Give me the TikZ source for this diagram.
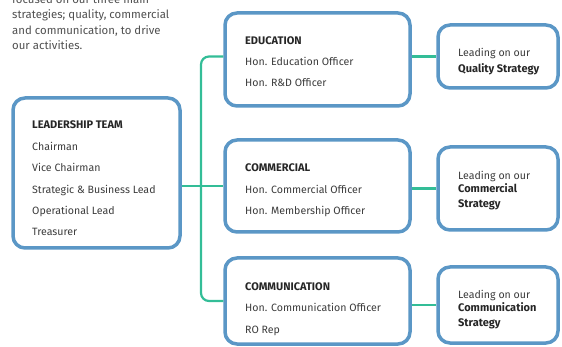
\documentclass[tikz,border=0pt]{standalone}
\usepackage{fontspec}
\setmainfont{Fira Sans}
\definecolor{boxblue}{HTML}{5B97C6}
\definecolor{linkgreen}{HTML}{33BD97}
\definecolor{txtgrey}{HTML}{3C3C3C}
\tikzset{
  box/.style={draw=boxblue, line width=3.5pt, rounded corners=12pt, fill=white},
  link/.style={draw=linkgreen, line width=2.2pt},
  item/.style={anchor=base west, inner sep=0pt, text=txtgrey, font=\fontsize{10.6}{12}\selectfont},
  head/.style={item, text=black!85, font=\fontsize{11}{12}\selectfont\bfseries},
}

\begin{document}
\begin{tikzpicture}[x=1pt,y=-1pt]
\useasboundingbox (0,0) rectangle (562,347);
% intro text, cut off at the top
\foreach \t [count=\i] in {focused on our three main, {strategies; quality, commercial}, {and communication, to drive}, our activities.}{
  \node[item, text=txtgrey!90, font=\fontsize{11.4}{13}\selectfont] (intro\i) at (12,3.5+15.5*\i-15.5) {\t};
}

% boxes
\node[box, minimum width=167pt, minimum height=150pt] (lead) at (96.5,173) {};
\node[box, minimum width=185pt, minimum height=93pt] (edu) at (317.5,59.5) {};
\node[box, minimum width=185pt, minimum height=92pt] (com) at (317.5,186) {};
\node[box, minimum width=185pt, minimum height=86pt] (comn) at (317.5,301) {};
\node[box, minimum width=120pt, minimum height=63pt] (qual) at (498,56.5) {};
\node[box, minimum width=120pt, minimum height=83pt] (coms) at (498,188.5) {};
\node[box, minimum width=120pt, minimum height=76pt] (comns) at (498,305) {};

% leadership team
\node[head] (leadh) at (32,129) {LEADERSHIP TEAM};
\foreach \t [count=\i] in {Chairman, Vice Chairman, Strategic \& Business Lead, Operational Lead, Treasurer}{
  \node[item] (lead\i) at (32,129.2+21.3*\i) {\t};
}

% education
\node[head] (eduh) at (245,44.5) {EDUCATION};
\node[item] (edu1) at (245,65.5) {Hon. Education Officer};
\node[item] (edu2) at (245,86.5) {Hon. R\&D Officer};

% commercial
\node[head] (comh) at (245,171.5) {COMMERCIAL};
\node[item] (com1) at (245,194) {Hon. Commercial Officer};
\node[item] (com2) at (245,214.5) {Hon. Membership Officer};

% communication
\node[head] (comnh) at (245,290.5) {COMMUNICATION};
\node[item] (comn1) at (245,311.5) {Hon. Communication Officer};
\node[item] (comn2) at (245,333.5) {RO Rep};

% strategies
\node[item] (qual1) at (458,56.5) {Leading on our};
\node[head] (qual2) at (458,72.5) {Quality Strategy};
\node[item] (coms1) at (458,179.5) {Leading on our};
\node[head] (coms2) at (458,193) {Commercial};
\node[head] (coms3) at (458,207.5) {Strategy};
\node[item] (comns1) at (458,298.5) {Leading on our};
\node[head] (comns2) at (458,312) {Communication};
\node[head] (comns3) at (458,326.5) {Strategy};

% connectors
\coordinate (jt) at (201,186);
\draw[link, rounded corners=8pt] (edu.west |- qual.west) -| (jt) |- (comn.west);
\draw[link] (lead.east |- jt) -- (com.west);
\draw[link] (qual.west -| edu.east) -- (qual.west);
\draw[link] (coms.west -| com.east) -- (coms.west);
\draw[link] (comns.west -| comn.east) -- (comns.west);
\end{tikzpicture}
\end{document}
